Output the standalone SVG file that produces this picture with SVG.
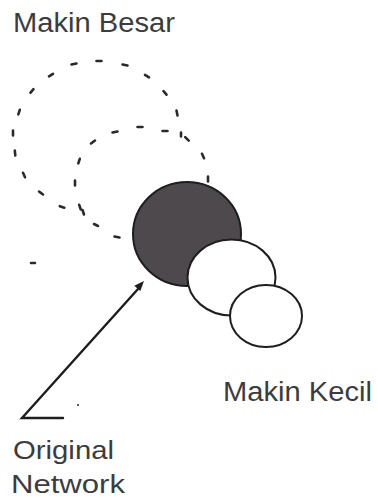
<svg xmlns="http://www.w3.org/2000/svg" width="378" height="500" viewBox="0 0 378 500">
<style>
.lbl{font-family:"Liberation Sans",Arial,sans-serif;fill:#3c3c3c}
.dash{fill:none;stroke:#2a2a2a;stroke-width:2.6;stroke-linecap:round}
.node{stroke:#1e1e1e;stroke-width:2}
.conn{fill:none;stroke:#1e1e1e;stroke-width:2.4;stroke-linecap:round}
</style>
<rect width="378" height="500" fill="#ffffff"/>
<g id="label-makin-besar"><text class="lbl" x="13" y="32" font-size="27" textLength="162" lengthAdjust="spacingAndGlyphs">Makin Besar</text></g>
<g id="dashed-large">
<path class="dash" d="M96.5 61 h5 M76.5 63.5 l-5 1 M53 73.8 l-4 2.5 M33.5 89.2 l-3 3.5 M19.8 109.8 l-1.5 4.5 M13 130.5 v5 M14.8 150.5 l0.5 5 M23 172.8 l2 4.5 M39 191.5 l4 3 M59.8 206.2 l4.5 1.5 M122.5 64.5 l5 1 M145 74.8 l4 2.5 M163.5 91.2 l3 3.5 M176.5 110.5 l1 5 M181 132.5 v4"/>
</g>
<g id="dashed-medium">
<path class="dash" d="M137.5 127 h5 M117.5 131.5 l-5 1 M162.5 131 h5 M95 140.5 l-4 3 M79.8 158.8 l-1.5 4.5 M75 180.5 v5 M79.2 204.8 l1.5 4.5 M82.5 210 l1.5 4.5 M94 224 l4 2 M114.5 236.5 l5 1 M185.2 137.2 l3.5 3.5 M202 153.8 l2 4.5 M208 176.5 v5 M31 263 h4"/>
<circle cx="78" cy="405" r="1" fill="#2a2a2a"/>
</g>
<g id="node-original">
<ellipse class="node" cx="187" cy="234" rx="54" ry="52" fill="#4d494c"/>
</g>
<g id="node-smaller-1">
<ellipse class="node" cx="231.5" cy="277.5" rx="44" ry="38" fill="#ffffff"/>
</g>
<g id="node-smaller-2">
<ellipse class="node" cx="266" cy="316" rx="36" ry="31" fill="#ffffff"/>
</g>
<g id="connectors">
<path class="conn" d="M63 418 H22 L138 289"/>
<polygon points="144,281 134.3,285.7 140.3,291.1" fill="#1e1e1e"/>
</g>
<g id="label-makin-kecil"><text class="lbl" x="223" y="401" font-size="27" textLength="149" lengthAdjust="spacingAndGlyphs">Makin Kecil</text></g>
<g id="label-original-network">
<text class="lbl" x="13" y="459" font-size="26" textLength="101" lengthAdjust="spacingAndGlyphs">Original</text>
<text class="lbl" x="11" y="493" font-size="26" textLength="114" lengthAdjust="spacingAndGlyphs">Network</text>
</g>
</svg>
